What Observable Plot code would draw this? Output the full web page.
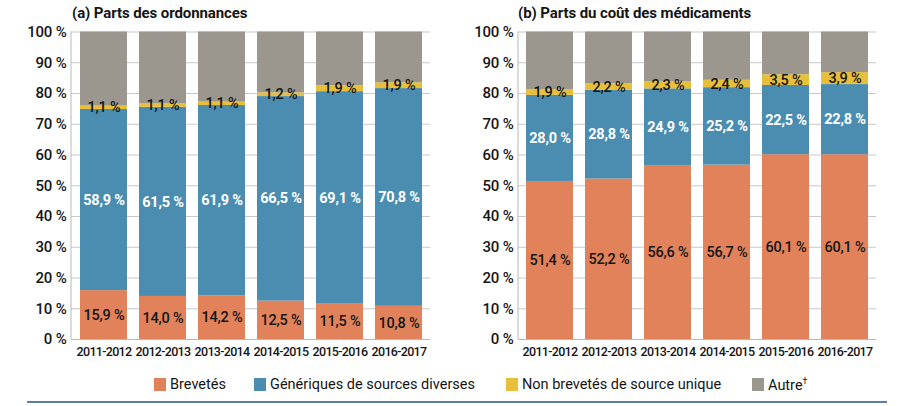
<!DOCTYPE html>
<html>
<head>
<meta charset="utf-8">
<script src="https://cdn.jsdelivr.net/npm/d3@7"></script>
<script src="https://cdn.jsdelivr.net/npm/@observablehq/plot@0.6"></script>
<style>
  html, body { margin: 0; padding: 0; background: #fff; }
  #wrap { position: relative; width: 900px; height: 406px; overflow: hidden; color: #151515;
          font-family: Roboto, "Noto Sans", sans-serif; }
  .panel { position: absolute; top: 0; }
  .panel text { letter-spacing: -0.2px; }
  .panel g[aria-label="x-axis tick label"] text { letter-spacing: -0.7px; }
  .ptitle { position: absolute; top: 4px; font-weight: bold; font-size: 15px; white-space: nowrap; letter-spacing: -0.1px; }
  .leg { position: absolute; top: 376px; font-size: 14.5px; white-space: nowrap; display: flex; align-items: center; }
  .sw { width: 12px; height: 13px; margin-right: 4px; display: inline-block; }
  #rule { position: absolute; left: 27px; width: 860px; top: 401px; height: 2px; background: #5b80a2; }
</style>
</head>
<body>
<div id="wrap"></div>
<script>
// ---- Data ----
const years = ["2011-2012", "2012-2013", "2013-2014", "2014-2015", "2015-2016", "2016-2017"];
const seriesNames = ["Brevetés", "Génériques de sources diverses", "Non brevetés de source unique", "Autre"];
const seriesColors = ["#e1825a", "#4a8db1", "#e8bf3a", "#9b978e"];

// (a) Parts des ordonnances
const ordBrevetes    = [15.9, 14.0, 14.2, 12.5, 11.5, 10.8];
const ordGeneriques  = [58.9, 61.5, 61.9, 66.5, 69.1, 70.8];
const ordNonBrevetes = [1.1, 1.1, 1.1, 1.2, 1.9, 1.9];
const ordAutre       = [24.1, 23.4, 22.8, 19.8, 17.5, 16.5];

// (b) Parts du coût des médicaments
const coutBrevetes    = [51.4, 52.2, 56.6, 56.7, 60.1, 60.1];
const coutGeneriques  = [28.0, 28.8, 24.9, 25.2, 22.5, 22.8];
const coutNonBrevetes = [1.9, 2.2, 2.3, 2.4, 3.5, 3.9];
const coutAutre       = [18.7, 16.8, 16.2, 15.7, 13.9, 13.2];

const yTicks = [0, 10, 20, 30, 40, 50, 60, 70, 80, 90, 100];
const titleA = "(a) Parts des ordonnances";
const titleB = "(b) Parts du coût des médicaments";

const FONT = 'Roboto, "Noto Sans", sans-serif';

function toRows(arrs) {
  const rows = [];
  years.forEach((yr, i) => {
    seriesNames.forEach((s, j) => rows.push({year: yr, series: s, value: arrs[j][i]}));
  });
  return rows;
}
const dataA = toRows([ordBrevetes, ordGeneriques, ordNonBrevetes, ordAutre]);
const dataB = toRows([coutBrevetes, coutGeneriques, coutNonBrevetes, coutAutre]);

const fmt = v => v.toFixed(1).replace(".", ",") + " %";

function makePanel(data, marginLeft, marginRight) {
  const stackOpts = {x: "year", y: "value", z: "series", order: seriesNames};
  const labelData = data.filter(d => d.series !== "Autre");
  return Plot.plot({
    width: 450,
    height: 362,
    marginTop: 31.5,
    marginBottom: 23,
    marginLeft,
    marginRight,
    style: {fontFamily: FONT, color: "#151515", background: "transparent"},
    x: {domain: years, paddingInner: 0.21, paddingOuter: 0.12, label: null},
    y: {domain: [0, 100], label: null},
    color: {domain: seriesNames, range: seriesColors},
    marks: [
      Plot.gridY(yTicks, {stroke: "#c8c8c8", strokeOpacity: 1, strokeWidth: 1}),
      Plot.barY(data, Plot.stackY({...stackOpts, fill: "series"})),
      Plot.text(labelData, Plot.filter(d => d.series !== "Génériques de sources diverses",
        Plot.stackY({...stackOpts, text: d => fmt(d.value), fill: "#151515", fontSize: 14.5, fontWeight: 500}))),
      Plot.text(labelData, Plot.filter(d => d.series === "Génériques de sources diverses",
        Plot.stackY({...stackOpts, text: d => fmt(d.value), fill: "white", fontSize: 14.5, fontWeight: "bold"}))),
      Plot.ruleY([0], {stroke: "#b8b8b8", strokeWidth: 1}),
      (index, scales, values, dims) => {
        const l = d3.create("svg:line")
          .attr("x1", dims.marginLeft).attr("x2", dims.marginLeft)
          .attr("y1", dims.marginTop).attr("y2", dims.height - dims.marginBottom)
          .attr("stroke", "#b8b8b8").attr("stroke-width", 1);
        return l.node();
      },
      Plot.axisY({ticks: yTicks, tickSize: 0, tickPadding: 5, tickFormat: d => d + " %", fontSize: 15, fontWeight: 500, label: null}),
      Plot.axisX({tickSize: 0, tickPadding: 8, fontSize: 12.5, fontWeight: 500, label: null})
    ]
  });
}

const wrap = document.getElementById("wrap");
const pa = makePanel(dataA, 71, 20);
pa.classList.add("panel"); pa.style.left = "0px";
const pb = makePanel(dataB, 68, 24);
pb.classList.add("panel"); pb.style.left = "450px";
wrap.appendChild(pa);
wrap.appendChild(pb);

function addDiv(cls, text, left) {
  const d = document.createElement("div");
  d.className = cls; d.textContent = text; d.style.left = left + "px";
  wrap.appendChild(d);
  return d;
}
addDiv("ptitle", titleA, 72);
addDiv("ptitle", titleB, 518);

const legX = [154, 254, 506, 752];
seriesNames.forEach((s, i) => {
  const d = document.createElement("div");
  d.className = "leg"; d.style.left = legX[i] + "px";
  const sw = document.createElement("span");
  sw.className = "sw"; sw.style.background = seriesColors[i];
  d.appendChild(sw);
  const t = document.createElement("span");
  t.textContent = s;
  d.appendChild(t);
  if (s === "Autre") {
    const sup = document.createElement("sup");
    sup.textContent = "†"; sup.style.fontSize = "9px";
    t.appendChild(sup);
  }
  wrap.appendChild(d);
});
const rule = document.createElement("div");
rule.id = "rule";
wrap.appendChild(rule);
</script>
</body>
</html>
